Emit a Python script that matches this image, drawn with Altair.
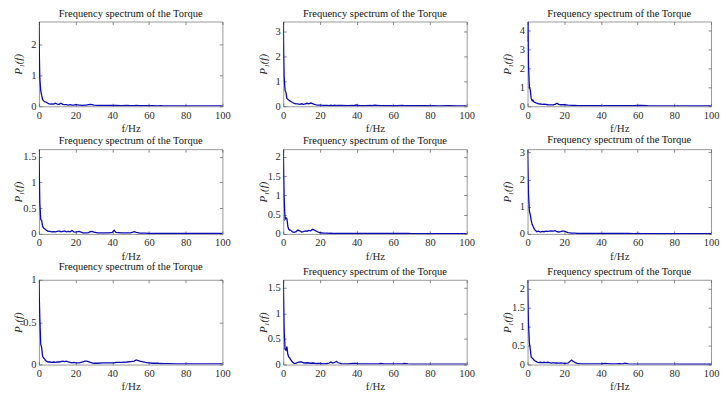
import altair as alt
import pandas as pd

# ---------------- data ----------------
freq = [0, 0.25, 0.5, 1, 1.5, 2, 2.5, 3, 3.5, 4,
        5, 6, 7, 8, 9, 10, 11, 12, 13, 14, 15, 16, 17, 18, 19, 20,
        22, 24, 25, 26, 27, 28, 29, 30,
        32, 35, 38, 40, 41, 42, 45, 48, 50, 52, 53, 55, 58, 60,
        62, 65, 66, 68, 70, 75, 80, 85, 90, 95, 100]

p1 = [2.74, 1.6, 0.9, 0.5, 0.35, 0.22, 0.18, 0.15, 0.14, 0.13,
      0.09, 0.07, 0.08, 0.07, 0.1, 0.07, 0.06, 0.1, 0.06, 0.05, 0.05, 0.04, 0.05, 0.04, 0.04, 0.05,
      0.04, 0.03, 0.04, 0.04, 0.05, 0.06, 0.05, 0.04,
      0.03, 0.03, 0.025, 0.03, 0.025, 0.03, 0.02, 0.025, 0.02, 0.02, 0.025, 0.02, 0.02, 0.02,
      0.02, 0.015, 0.02, 0.015, 0.015, 0.015, 0.015, 0.012, 0.015, 0.01, 0.01]

p2 = [3.42, 2.0, 1.2, 0.65, 0.55, 0.32, 0.28, 0.25, 0.22, 0.2,
      0.15, 0.12, 0.1, 0.1, 0.08, 0.1, 0.08, 0.1, 0.12, 0.1, 0.13, 0.11, 0.08, 0.06, 0.05, 0.05,
      0.04, 0.04, 0.03, 0.04, 0.03, 0.04, 0.03, 0.03,
      0.03, 0.025, 0.03, 0.05, 0.03, 0.025, 0.025, 0.03, 0.045, 0.03, 0.025, 0.02, 0.02, 0.025,
      0.02, 0.035, 0.025, 0.02, 0.02, 0.02, 0.02, 0.015, 0.02, 0.015, 0.015]

p3 = [3.4, 4.46, 2.2, 1.0, 0.85, 0.4, 0.3, 0.32, 0.22, 0.2,
      0.16, 0.13, 0.12, 0.1, 0.11, 0.1, 0.08, 0.07, 0.07, 0.08, 0.1, 0.16, 0.1, 0.08, 0.09, 0.08,
      0.06, 0.05, 0.04, 0.04, 0.03, 0.035, 0.03, 0.03,
      0.03, 0.035, 0.03, 0.03, 0.025, 0.03, 0.03, 0.035, 0.03, 0.035, 0.03, 0.03, 0.035, 0.05,
      0.04, 0.03, 0.025, 0.025, 0.02, 0.02, 0.02, 0.02, 0.015, 0.015, 0.015]

p4 = [1.65, 1.1, 0.6, 0.28, 0.26, 0.15, 0.12, 0.1, 0.09, 0.07,
      0.05, 0.05, 0.04, 0.045, 0.04, 0.05, 0.06, 0.04, 0.05, 0.06, 0.04, 0.05, 0.04, 0.065, 0.04, 0.035,
      0.05, 0.02, 0.02, 0.02, 0.025, 0.045, 0.05, 0.035,
      0.02, 0.02, 0.02, 0.03, 0.07, 0.03, 0.02, 0.02, 0.02, 0.045, 0.03, 0.015, 0.015, 0.012,
      0.012, 0.01, 0.012, 0.01, 0.01, 0.01, 0.008, 0.01, 0.008, 0.008, 0.008]

p5 = [2.2, 1.5, 0.95, 0.38, 0.42, 0.4, 0.2, 0.12, 0.1, 0.1,
      0.05, 0.04, 0.06, 0.1, 0.08, 0.05, 0.06, 0.08, 0.07, 0.09, 0.08, 0.12, 0.1, 0.07, 0.05, 0.03,
      0.02, 0.02, 0.015, 0.02, 0.015, 0.015, 0.015, 0.015,
      0.012, 0.012, 0.015, 0.012, 0.01, 0.012, 0.012, 0.012, 0.012, 0.015, 0.012, 0.01, 0.01, 0.01,
      0.01, 0.01, 0.01, 0.01, 0.008, 0.008, 0.008, 0.008, 0.008, 0.008, 0.008]

p6 = [3.12, 2.3, 1.5, 0.85, 0.7, 0.5, 0.35, 0.28, 0.2, 0.15,
      0.08, 0.1, 0.07, 0.09, 0.08, 0.1, 0.09, 0.1, 0.11, 0.1, 0.12, 0.08, 0.07, 0.08, 0.1, 0.1,
      0.05, 0.03, 0.03, 0.025, 0.02, 0.02, 0.02, 0.02,
      0.02, 0.018, 0.02, 0.015, 0.015, 0.02, 0.015, 0.015, 0.015, 0.015, 0.015, 0.015, 0.012, 0.015,
      0.012, 0.012, 0.012, 0.012, 0.01, 0.01, 0.01, 0.01, 0.01, 0.01, 0.01]

p7 = [1.0, 0.75, 0.55, 0.24, 0.2, 0.1, 0.08, 0.07, 0.05, 0.04,
      0.03, 0.03, 0.025, 0.03, 0.025, 0.03, 0.03, 0.035, 0.04, 0.035, 0.04, 0.03, 0.025, 0.02, 0.025, 0.02,
      0.02, 0.03, 0.04, 0.04, 0.035, 0.025, 0.02, 0.015,
      0.015, 0.02, 0.02, 0.02, 0.02, 0.025, 0.025, 0.03, 0.035, 0.04, 0.055, 0.04, 0.025, 0.02,
      0.015, 0.015, 0.012, 0.01, 0.01, 0.008, 0.008, 0.008, 0.007, 0.007, 0.007]

p8 = [1.66, 1.15, 0.7, 0.3, 0.28, 0.35, 0.2, 0.15, 0.13, 0.1,
      0.05, 0.02, 0.03, 0.04, 0.05, 0.05, 0.035, 0.03, 0.035, 0.03, 0.025, 0.03, 0.025, 0.02, 0.02, 0.02,
      0.015, 0.02, 0.03, 0.05, 0.03, 0.04, 0.06, 0.035,
      0.015, 0.015, 0.02, 0.02, 0.015, 0.012, 0.012, 0.012, 0.012, 0.015, 0.02, 0.012, 0.012, 0.012,
      0.012, 0.015, 0.02, 0.012, 0.01, 0.01, 0.01, 0.008, 0.008, 0.008, 0.008]

p9 = [2.23, 1.6, 1.1, 0.58, 0.4, 0.2, 0.17, 0.15, 0.12, 0.1,
      0.07, 0.05, 0.06, 0.05, 0.06, 0.05, 0.06, 0.05, 0.04, 0.05, 0.04, 0.04, 0.035, 0.04, 0.035, 0.03,
      0.035, 0.12, 0.08, 0.05, 0.03, 0.025, 0.02, 0.02,
      0.015, 0.015, 0.015, 0.02, 0.025, 0.03, 0.02, 0.02, 0.025, 0.02, 0.035, 0.02, 0.012, 0.01,
      0.01, 0.01, 0.01, 0.01, 0.012, 0.01, 0.01, 0.008, 0.008, 0.008, 0.008]

series = [p1, p2, p3, p4, p5, p6, p7, p8, p9]
y_ticks = [[0, 1, 2], [0, 1, 2, 3], [0, 1, 2, 3, 4],
           [0, 0.5, 1, 1.5], [0, 0.5, 1, 1.5, 2], [0, 1, 2, 3],
           [0, 0.5, 1], [0, 0.5, 1, 1.5], [0, 0.5, 1, 1.5, 2]]
x_ticks = [0, 20, 40, 60, 80, 100]
panel_title = "Frequency spectrum of the Torque"
x_title = "f/Hz"
y_title = "P\u2081(f)"

# ---------------- styling ----------------
FONT = "Liberation Serif"
BLUE = "#0a0ab4"
FRAME = "#9a9a9a"
TXT = "#2a2a2a"
W, H = 184, 85

lab = dict(labelFont=FONT, labelFontSize=10.5, labelColor=TXT,
           titleFont=FONT, titleFontSize=11, titleFontWeight="normal",
           titleColor=TXT)
tk = dict(tickColor="#6a6a6a", tickWidth=0.8, tickSize=3)


def panel(vals, ticks):
    df = pd.DataFrame({"f": freq, "P": vals})
    xs = alt.Scale(domain=[0, 100], nice=False, zero=False)
    ys = alt.Scale(domain=[0, max(vals)], nice=False, zero=True)
    base = alt.Chart(df)
    line = base.mark_line(color=BLUE, strokeWidth=1.3, clip=True).encode(
        x=alt.X("f:Q", scale=xs, axis=alt.Axis(
            values=x_ticks, ticks=False, domain=False, grid=False,
            labelPadding=4, title=x_title, titlePadding=2,
            labelFlush=False, **lab)),
        y=alt.Y("P:Q", scale=ys, axis=alt.Axis(
            values=ticks, format="~g", ticks=False, domain=False, grid=False,
            labelPadding=3, minExtent=14, maxExtent=14,
            title=y_title, titleFontStyle="italic", titlePadding=1, **lab)),
    )
    inner1 = base.mark_line(opacity=0).encode(
        x=alt.X("f:Q", scale=xs, axis=alt.Axis(
            orient="top", offset=-H, values=x_ticks, labels=False, ticks=True,
            domain=False, grid=False, title=None, **tk)),
        y=alt.Y("P:Q", scale=ys, axis=alt.Axis(
            orient="right", offset=-W, values=ticks, labels=False, ticks=True,
            domain=False, grid=False, title=None, **tk)),
    )
    inner2 = base.mark_line(opacity=0).encode(
        x=alt.X("f:Q", scale=xs, axis=alt.Axis(
            orient="bottom", offset=-H, values=x_ticks, labels=False, ticks=True,
            domain=False, grid=False, title=None, **tk)),
        y=alt.Y("P:Q", scale=ys, axis=alt.Axis(
            orient="left", offset=-W, values=ticks, labels=False, ticks=True,
            domain=False, grid=False, title=None, **tk)),
    )
    return alt.layer(line, inner1, inner2).resolve_axis(
        x="independent", y="independent"
    ).properties(
        width=W, height=H,
        title=alt.TitleParams(panel_title, font=FONT, fontSize=10.5,
                              fontWeight="normal", color="#111111",
                              offset=2, anchor="middle"),
    )


rows = []
for r in range(3):
    rows.append(alt.hconcat(*[panel(series[3 * r + c], y_ticks[3 * r + c])
                              for c in range(3)], spacing=25))

chart = alt.vconcat(*rows, spacing=0, background="white").properties(
    padding={"left": 4, "top": -1, "right": 0, "bottom": 0}
).configure_view(
    stroke=FRAME, strokeWidth=1
)

chart.save("out.html", embed_options={"renderer": "svg", "actions": False})
